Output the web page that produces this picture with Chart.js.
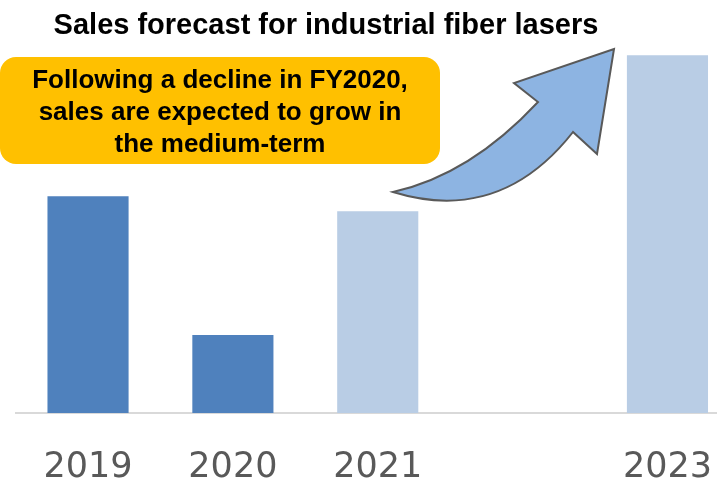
<!DOCTYPE html>
<html>
<head>
<meta charset="utf-8">
<script src="https://cdn.jsdelivr.net/npm/chart.js@4/dist/chart.umd.min.js"></script>
<style>
  html, body { margin: 0; padding: 0; background: #fff; overflow: hidden; }
  #wrap { width: 746px; height: 491px; overflow: hidden; }
</style>
</head>
<body>
<div id="wrap"><canvas id="chart" width="746" height="529"></canvas></div>
<script>
// данные (индекс, 2019 = 100), 2022 пропущен на графике
const years = ['2019', '2020', '2021', '2022', '2023'];
const sales = [100, 36, 93, null, 165];
const barColors = ['#4F81BD', '#4F81BD', '#B9CDE5', '#B9CDE5', '#B9CDE5'];
const yMax = 172;
const tickLabels = ['2019', '2020', '2021', '', '2023'];

const titleText = 'Sales forecast for industrial fiber lasers';
const calloutLines = ['Following a decline in FY2020,', 'sales are expected to grow in', 'the medium-term'];

// заголовок, выноска и стрелка
const overlay = {
    id: 'overlay',
    afterDraw(chart) {
        const ctx = chart.ctx;
        ctx.save();
        ctx.fillStyle = '#000';
        ctx.font = 'bold 29px "Liberation Sans", Arial, sans-serif';
        ctx.textAlign = 'center';
        ctx.textBaseline = 'middle';
        ctx.fillText(titleText, 326, 26);

        // выноска
        ctx.fillStyle = '#FFC000';
        ctx.beginPath();
        ctx.roundRect(0, 57, 440, 107, 16);
        ctx.fill();
        ctx.fillStyle = '#000';
        ctx.font = 'bold 26px "Liberation Sans", Arial, sans-serif';
        calloutLines.forEach((line, i) => ctx.fillText(line, 220, 81 + i * 32));

        // стрелка
        ctx.beginPath();
        ctx.moveTo(393, 192);
        ctx.quadraticCurveTo(500, 225, 573, 132);
        ctx.lineTo(597, 154);
        ctx.lineTo(614, 49);
        ctx.lineTo(514, 83);
        ctx.lineTo(538, 102);
        ctx.quadraticCurveTo(470, 175, 393, 192);
        ctx.closePath();
        ctx.fillStyle = '#8DB4E2';
        ctx.fill();
        ctx.lineWidth = 2;
        ctx.strokeStyle = '#595959';
        ctx.stroke();
        ctx.restore();
    }
};

new Chart(document.getElementById('chart').getContext('2d'), {
    type: 'bar',
    data: {
        labels: years,
        datasets: [{
            data: sales,
            backgroundColor: barColors,
            borderWidth: 0,
            barPercentage: 0.56,
            categoryPercentage: 1
        }]
    },
    options: {
        responsive: false,
        animation: false,
        layout: { padding: { left: 15.6, right: 0, top: 40, bottom: 6 } },
        plugins: { legend: { display: false }, tooltip: { enabled: false } },
        scales: {
            x: {
                grid: { display: false, drawTicks: false },
                border: { display: true, color: '#D9D9D9', width: 2 },
                ticks: {
                    padding: 34,
                    color: '#595959',
                    font: { family: '"DejaVu Sans", Verdana, sans-serif', size: 35 },
                    maxRotation: 0,
                    autoSkip: false,
                    callback: (v, i) => tickLabels[i]
                }
            },
            y: { display: false, min: 0, max: yMax }
        }
    },
    plugins: [overlay]
});
</script>
</body>
</html>
